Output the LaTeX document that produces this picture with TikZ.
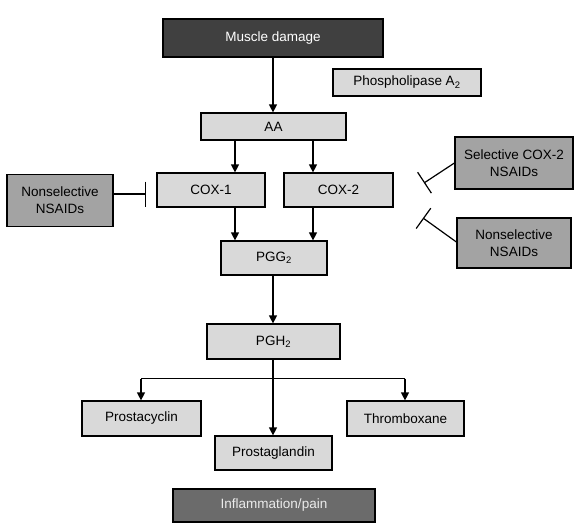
\documentclass[tikz,border=0pt]{standalone}
\usepackage{fontspec}
\setmainfont{Liberation Sans}
\usetikzlibrary{arrows.meta}
\definecolor{lightbox}{HTML}{D9D9D9}
\definecolor{midbox}{HTML}{A3A3A3}
\definecolor{darkbox}{HTML}{404040}
\definecolor{inflbox}{HTML}{6B6B6B}
\begin{document}
\begin{tikzpicture}[x=1pt,y=-1pt,
  base/.style={draw=black, line width=1.2pt, inner sep=0pt, align=center,
    font=\fontsize{13.5}{17}\selectfont},
  light/.style={base, fill=lightbox, text=black},
  mid/.style={base, fill=midbox, text=black},
  darkb/.style={base, fill=darkbox, text=white},
  inflb/.style={base, fill=inflbox, text=white!92!black},
  arr/.style={line width=1.2pt, -{Triangle[length=8pt,width=8pt]}},
  conn/.style={line width=1.2pt},
  inhib/.style={line width=1.2pt, -{Bar[width=25pt,line width=1.2pt]}}]
\useasboundingbox (0,0) rectangle (579,531);

\node[darkb, minimum width=220pt, minimum height=38pt] (mus) at (273,38) {Muscle damage};
\node[light, minimum width=148pt, minimum height=27pt] (pla) at (407,82.5) {Phospholipase A\textsubscript{2}};
\node[light, minimum width=145pt, minimum height=27pt] (aa) at (273.5,126.5) {AA};
\node[light, minimum width=108pt, minimum height=34pt] (cox1) at (211,190) {COX-1};
\node[light, minimum width=109pt, minimum height=34pt] (cox2) at (338.5,190) {COX-2};
\node[mid, minimum width=106pt, minimum height=52pt] (nsl) at (60,200.5) {Nonselective\\NSAIDs};
\node[mid, minimum width=118pt, minimum height=52pt] (sel) at (514,163) {Selective COX-2\\NSAIDs};
\node[mid, minimum width=114pt, minimum height=50pt] (nsr) at (514,243) {Nonselective\\NSAIDs};
\node[light, minimum width=106pt, minimum height=34pt] (pgg) at (274,258) {PGG\textsubscript{2}};
\node[light, minimum width=133pt, minimum height=35pt] (pgh) at (273.5,341.5) {PGH\textsubscript{2}};
\node[light, minimum width=119pt, minimum height=35pt] (pcy) at (141.5,418.5) {Prostacyclin};
\node[light, minimum width=117pt, minimum height=35pt] (txa) at (405.5,418.5) {Thromboxane};
\node[light, minimum width=117pt, minimum height=34pt] (pgl) at (273.5,453) {Prostaglandin};
\node[inflb, minimum width=202pt, minimum height=33pt] (infl) at (274,505.5) {Inflammation/pain};

\coordinate (xl) at (235,0);
\coordinate (xr) at (313,0);
\coordinate (xm) at (273,0);
\coordinate (xpc) at (141,0);
\coordinate (xtx) at (405,0);
\coordinate (split) at (273,378.5);

\draw[arr] (mus.south -| xm) -- (aa.north -| xm);
\draw[arr] (aa.south -| xl) -- (cox1.north -| xl);
\draw[arr] (aa.south -| xr) -- (cox2.north -| xr);
\draw[arr] (cox1.south -| xl) -- (pgg.north -| xl);
\draw[arr] (cox2.south -| xr) -- (pgg.north -| xr);
\draw[arr] (pgg.south -| xm) -- (pgh.north -| xm);
\draw[arr] (pgh.south -| xm) -- (pgl.north -| xm);
\draw[conn] (split -| xpc) -- (split -| xtx);
\draw[arr] (split -| xpc) -- (pcy.north -| xpc);
\draw[arr] (split -| xtx) -- (txa.north -| xtx);

\coordinate (ibl) at (146,194);
\coordinate (ibs) at (424,183);
\coordinate (ibn) at (423,218);
\draw[inhib] (nsl.east |- ibl) -- (ibl);
\draw[inhib] (sel.west) -- (ibs);
\draw[inhib] ([yshift=1pt]nsr.west) -- (ibn);
\end{tikzpicture}
\end{document}
